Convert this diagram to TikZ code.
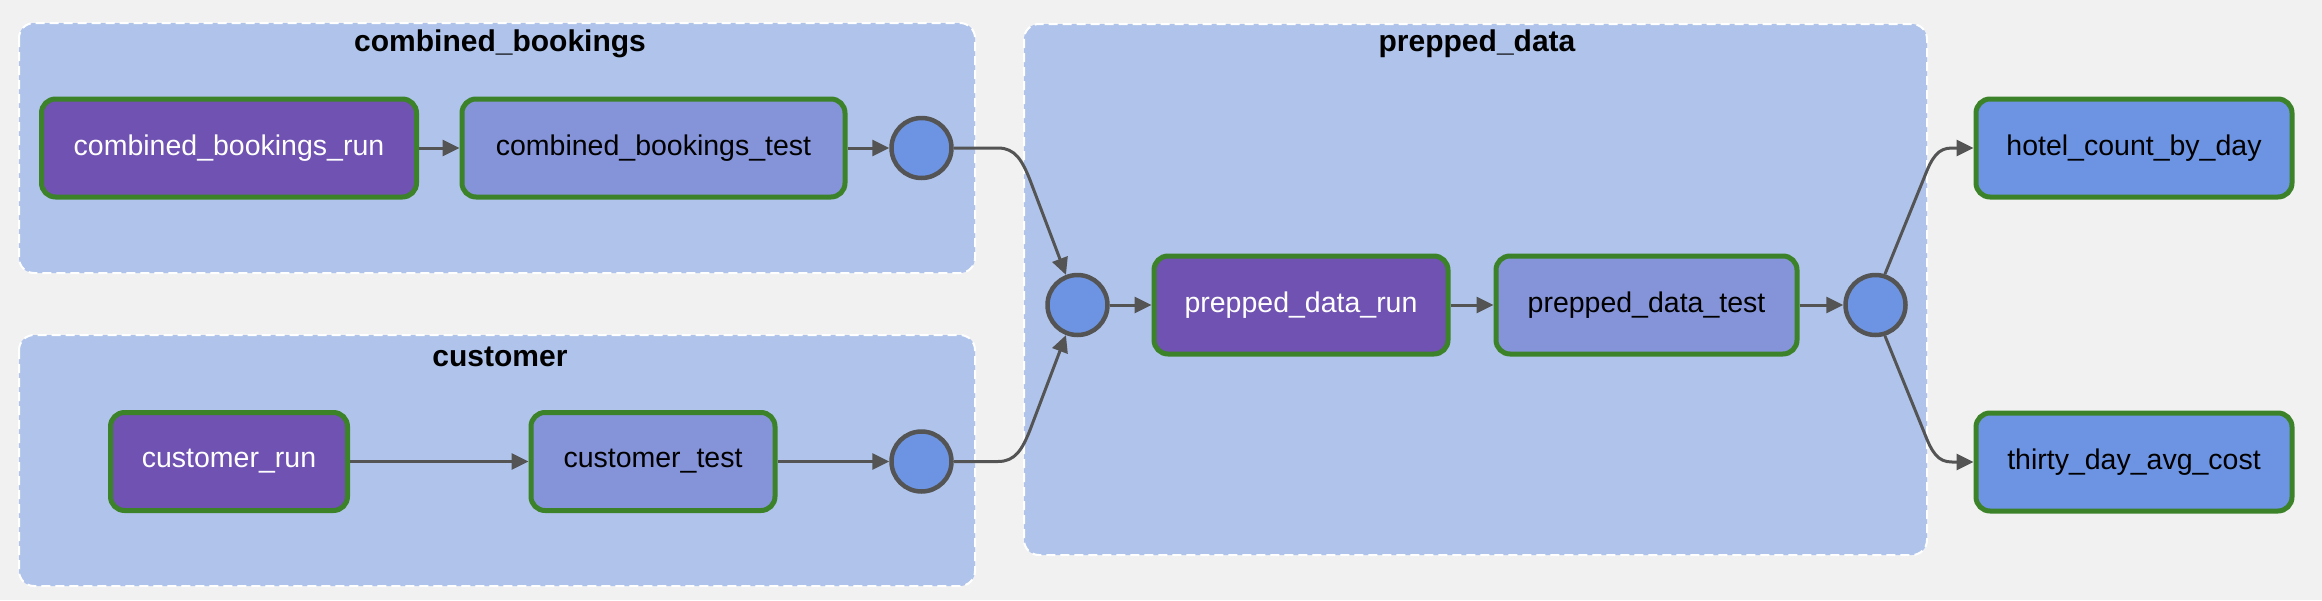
\documentclass[tikz,border=0pt]{standalone}
\usepackage{fontspec}
\setmainfont{Liberation Sans}
\usetikzlibrary{arrows.meta}
\definecolor{bgc}{HTML}{F1F1F1}
\definecolor{grpc}{HTML}{B0C4EB}
\definecolor{runc}{HTML}{6F52B1}
\definecolor{testc}{HTML}{8594D8}
\definecolor{modc}{HTML}{6D94E3}
\definecolor{grnc}{HTML}{3B8228}
\definecolor{edgec}{HTML}{545454}
\tikzset{
  grp/.style={fill=grpc, draw=white, line width=2pt, dash pattern=on 9pt off 5pt, rounded corners=15pt},
  grptitle/.style={font=\fontsize{30}{34}\selectfont\bfseries, text=black, anchor=center},
  basebox/.style={draw=grnc, line width=5pt, rounded corners=14pt, inner sep=0pt, font=\fontsize{28.5}{34}\selectfont},
  runbox/.style={basebox, fill=runc, text=white},
  testbox/.style={basebox, fill=testc, text=black},
  modbox/.style={basebox, fill=modc, text=black},
  opnode/.style={circle, fill=modc, draw=edgec, line width=4.5pt, minimum size=60pt, inner sep=0pt},
  conn/.style={draw=edgec, line width=3pt, -{Triangle[length=17pt,width=16pt]}}
}
\begin{document}
\begin{tikzpicture}[x=1pt,y=-1pt]
\useasboundingbox (0,0) rectangle (2322,600);
\fill[bgc] (0,0) rectangle (2322,600);
% groups
\draw[grp] (19,23) rectangle (975,273);
\node[grptitle] (t1) at (500,44) {combined\_bookings};
\draw[grp] (19,335) rectangle (975,586);
\node[grptitle] (t2) at (500,357) {customer};
\draw[grp] (1024,24) rectangle (1927,555);
\node[grptitle] (t3) at (1477,44) {prepped\_data};
% nodes
\node[runbox, minimum width=375pt, minimum height=98pt] (cbr) at (229,148) {combined\_bookings\_run};
\node[testbox, minimum width=383pt, minimum height=98pt] (cbt) at (653.5,148) {combined\_bookings\_test};
\node[opnode] (c1) at (921.5,148) {};
\node[runbox, minimum width=237pt, minimum height=98pt] (cr) at (229,461.5) {customer\_run};
\node[testbox, minimum width=244pt, minimum height=98pt] (ct) at (653,461.5) {customer\_test};
\node[opnode] (c2) at (921.5,461.5) {};
\node[opnode] (c3) at (1077.5,305) {};
\node[runbox, minimum width=294pt, minimum height=98pt] (pr) at (1301,305) {prepped\_data\_run};
\node[testbox, minimum width=301pt, minimum height=98pt] (pt) at (1646.5,305) {prepped\_data\_test};
\node[opnode] (c4) at (1875.5,305) {};
\node[modbox, minimum width=316pt, minimum height=98pt] (hc) at (2134,148) {hotel\_count\_by\_day};
\node[modbox, minimum width=316pt, minimum height=98pt] (td) at (2134,462) {thirty\_day\_avg\_cost};
% connectors
\draw[conn] (cbr) -- (cbt);
\draw[conn] (cbt) -- (c1);
\draw[conn] (cr) -- (ct);
\draw[conn] (ct) -- (c2);
\draw[conn] (c3) -- (pr);
\draw[conn] (pr) -- (pt);
\draw[conn] (pt) -- (c4);
\draw[conn] (c1.east) -- (998,148) .. controls (1015,148) and (1022,160) .. (1030,180) -- (c3.111);
\draw[conn] (c2.east) -- (998,461.5) .. controls (1015,461.5) and (1022,450) .. (1030,430) -- (c3.-111);
\draw[conn] (c4.73) -- (1924,178) .. controls (1932,157) and (1938,148) .. (1952,148) -- (hc.west);
\draw[conn] (c4.-73) -- (1924,432) .. controls (1932,453) and (1938,462) .. (1952,462) -- (td.west);
\end{tikzpicture}
\end{document}
